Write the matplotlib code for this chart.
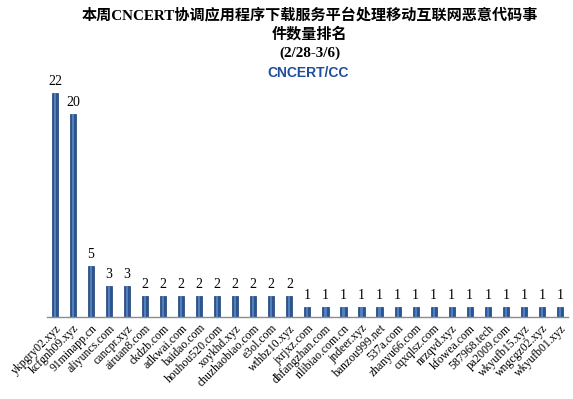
import matplotlib
matplotlib.use("Agg")
import matplotlib.pyplot as plt

domains = [
    "ykpgry02.xyz", "kcfgnh09.xyz", "91minapp.cn", "aliyuncs.com", "cancpr.xyz",
    "airuan8.com", "ckdzb.com", "adkwai.com", "baidao.com", "houhou520.com",
    "xoykhd.xyz", "chuzhaobiao.com", "e3ol.com", "wthbz10.xyz", "jxrjxz.com",
    "dhfangzhan.com", "rilibiao.com.cn", "jndeer.xyz", "banzou999.net", "537a.com",
    "zhanyu66.com", "cqxqlsz.com", "nrzqvd.xyz", "kfowea.com", "587968.tech",
    "pa2009.com", "wkyufb15.xyz", "wngcgz02.xyz", "wkyufb01.xyz",
]
counts = [22, 20, 5, 3, 3, 2, 2, 2, 2, 2, 2, 2, 2, 2,
          1, 1, 1, 1, 1, 1, 1, 1, 1, 1, 1, 1, 1, 1, 1]

title_line1 = "本周CNCERT协调应用程序下载服务平台处理移动互联网恶意代码事"
title_line2 = "件数量排名"
date_range = "(2/28-3/6)"
logo_text = "CNCERT/CC"

SERIF_CJK = ["Liberation Serif", "Noto Sans CJK SC", "DejaVu Sans"]

fig = plt.figure(figsize=(5.73, 3.99), dpi=100)
ax = fig.add_axes([0.082, 0.206, 0.909, 0.611])

x = list(range(len(domains)))
# main bar plus a lighter stripe to mimic the cylinder look
ax.bar(x, counts, width=0.34, color="#2B5591", edgecolor="#1D3D6E", linewidth=0.5)
ax.bar(x, counts, width=0.12, color="#5C8CCB", linewidth=0, alpha=0.8)

for xi, v in zip(x, counts):
    ax.text(xi, v + 0.5, str(v), ha="center", va="bottom",
            family="Liberation Serif", fontsize=10)

ax.set_xlim(-0.44, len(domains) - 1 + 0.44)
ax.set_ylim(0, 24)
ax.set_xticks(x)
ax.set_xticklabels(domains, rotation=45, ha="right", rotation_mode="anchor",
                   family="Liberation Serif", fontsize=8.5)
ax.tick_params(axis="x", length=0, pad=4)
ax.set_yticks([])
for side in ["top", "right", "left"]:
    ax.spines[side].set_visible(False)
ax.spines["bottom"].set_color("#8C8C8C")
ax.spines["bottom"].set_linewidth(1.0)

fig.text(0.541, 0.963, title_line1, ha="center", va="center",
         family=SERIF_CJK, fontweight="bold", fontsize=10.9)
fig.text(0.541, 0.915, title_line2, ha="center", va="center",
         family=SERIF_CJK, fontweight="bold", fontsize=10.9)
fig.text(0.541, 0.867, date_range, ha="center", va="center",
         family="Liberation Serif", fontweight="bold", fontsize=10.9)
fig.text(0.538, 0.817, logo_text, ha="center", va="center",
         family="Liberation Sans", fontweight="bold", fontsize=10,
         color="#1F4E9A")

plt.savefig("out.png", dpi=100)
